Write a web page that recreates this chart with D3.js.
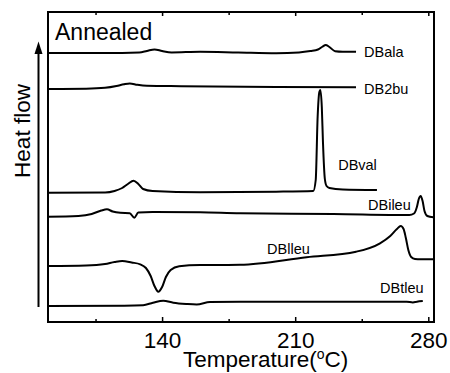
<!DOCTYPE html>
<html>
<head>
<meta charset="utf-8">
<script src="https://cdn.jsdelivr.net/npm/d3@7"></script>
<style>
    body { margin: 0; background: #fff; }
    text { font-family: Arial, "Liberation Sans", sans-serif; fill: #000; }
</style>
</head>
<body>
<div id="chart"></div>
<script>
// DSC traces, annealed samples (temperature in oC, heat flow in arbitrary units)
var alaT = [80, 110, 128, 132, 136, 140, 145, 160, 180, 200, 212, 218, 222, 224.5, 226, 228, 231, 235, 242];
var alaV = [269, 269, 269.5, 271, 272.6, 271, 269.6, 270.2, 269.5, 268.8, 269.6, 271, 272.5, 275.5, 277, 275, 270.8, 270.3, 270.3];

var bu2T = [80, 100, 110, 116, 120, 123, 127, 132, 150, 200, 242];
var bu2V = [233, 233.3, 234.2, 236, 237.8, 238.6, 237.2, 236.2, 235.8, 235, 234.7];

var valT = [80, 110, 115, 119, 122, 125, 127.5, 130, 135, 160, 200, 219.5, 220.8, 221.8, 222.7, 223.2, 224, 224.6, 225.6, 226.5, 228, 235, 253];
var valV = [129.3, 129.5, 131, 134, 138, 141.3, 138, 133, 131, 129.8, 130.3, 131, 142, 205, 230, 232, 215, 180, 143, 136, 134, 132.5, 132];

var ileuT = [80, 96, 103, 108, 111, 114, 118, 123, 125.4, 127.5, 135, 160, 181, 230, 270, 272.5, 274, 275, 276, 277, 278, 279.5, 282.6];
var ileuV = [105.3, 106, 108, 111.5, 112.7, 110.5, 109.2, 108.8, 104.3, 109.5, 110, 109.7, 108.7, 108, 107, 108.5, 115, 123, 126, 121, 111, 106, 104.7];

var lleuT = [80, 100, 110, 115, 119, 124, 128.5, 131.5, 134, 136, 138, 140, 142, 144.5, 149, 160, 181, 216, 242, 254.6, 260, 263.5, 265.5, 267, 268.2, 269.5, 271, 273, 276, 282.6];
var lleuV = [56, 56.5, 58, 60, 61, 59.5, 57.7, 54, 46, 36, 30.3, 35, 45, 52, 55.8, 57, 57.2, 64.7, 70.3, 78.7, 86, 93, 96, 93, 84, 72, 65, 63, 62.7, 62.7];

var tleuT = [80, 120, 130, 135.2, 140.6, 145.9, 152.9, 158.2, 165.2, 181, 268.6, 271.9, 274, 277.1];
var tleuV = [16, 16.3, 16.8, 19.3, 21.3, 19.3, 18, 17.5, 20, 20.3, 20.3, 19.5, 20.3, 21];

var seriesNames = ["DBala", "DB2bu", "DBval", "DBileu", "DBlleu", "DBtleu"];
// label anchor (temperature, heat flow) for each trace
var labelT = [246.2, 246.2, 232.6, 248.3, 195.2, 254.6];
var labelV = [265, 228, 152, 112, 68, 29];

var majorTicks = [140, 210, 280];
var minorTicks = [105, 175, 245];

var width = 450, height = 373;
var plotLeft = 48, plotTop = 12, plotRight = 434, plotBottom = 322;

var svg = d3.select("#chart").append("svg")
    .attr("width", width)
    .attr("height", height);

var x = d3.scaleLinear().domain([80, 283]).range([plotLeft, plotRight]);
var y = d3.scaleLinear().domain([0, 310]).range([plotBottom, plotTop]);

var traces = [
    [alaT, alaV], [bu2T, bu2V], [valT, valV],
    [ileuT, ileuV], [lleuT, lleuV], [tleuT, tleuV]
];

var line = d3.line()
    .x(function (d) { return x(d[0]); })
    .y(function (d) { return y(d[1]); })
    .curve(d3.curveMonotoneX);

traces.forEach(function (tr, i) {
    var pts = tr[0].map(function (t, j) { return [t, tr[1][j]]; });
    svg.append("path")
        .attr("d", line(pts))
        .attr("fill", "none")
        .attr("stroke", "#000")
        .attr("stroke-width", 2)
        .attr("stroke-linejoin", "round");

    svg.append("text")
        .attr("x", x(labelT[i]))
        .attr("y", y(labelV[i]))
        .attr("font-size", 14.5)
        .text(seriesNames[i]);
});

// axes: ticks point inwards, labels only on the major ones
var bottomAxis = svg.append("g")
    .attr("transform", "translate(0," + plotBottom + ")")
    .call(d3.axisBottom(x).tickValues(majorTicks).tickSize(-5).tickPadding(10));
bottomAxis.append("g")
    .call(d3.axisBottom(x).tickValues(minorTicks).tickSize(-3).tickFormat(""));

var topAxis = svg.append("g")
    .attr("transform", "translate(0," + plotTop + ")")
    .call(d3.axisTop(x).tickValues(majorTicks).tickSize(-4).tickFormat(""));
topAxis.append("g")
    .call(d3.axisTop(x).tickValues(minorTicks).tickSize(-3).tickFormat(""));

svg.selectAll(".domain").remove();
svg.selectAll(".tick line").attr("stroke", "#000").attr("stroke-width", 1.5);
bottomAxis.selectAll(".tick text")
    .attr("font-size", 22.5)
    .attr("font-family", "Arial, 'Liberation Sans', sans-serif")
    .attr("fill", "#000");

// frame
svg.append("rect")
    .attr("x", plotLeft)
    .attr("y", plotTop)
    .attr("width", plotRight - plotLeft)
    .attr("height", plotBottom - plotTop)
    .attr("fill", "none")
    .attr("stroke", "#000")
    .attr("stroke-width", 2);

svg.append("text")
    .attr("x", 55)
    .attr("y", 40)
    .attr("font-size", 23)
    .text("Annealed");

// x title
var xt = svg.append("text")
    .attr("x", 183)
    .attr("y", 367)
    .attr("font-size", 22.5);
xt.append("tspan").text("Temperature(");
xt.append("tspan").attr("font-size", 14).attr("baseline-shift", "super").text("o");
xt.append("tspan").text("C)");

// heat flow arrow
svg.append("text")
    .attr("transform", "translate(29.5,131) rotate(-90)")
    .attr("text-anchor", "middle")
    .attr("font-size", 22.5)
    .text("Heat flow");

svg.append("line")
    .attr("x1", 38.5).attr("x2", 38.5)
    .attr("y1", 307).attr("y2", 52)
    .attr("stroke", "#000")
    .attr("stroke-width", 2);
svg.append("path")
    .attr("d", "M38.5,41.5 L34.5,54 L42.5,54 Z")
    .attr("fill", "#000");
</script>
</body>
</html>
